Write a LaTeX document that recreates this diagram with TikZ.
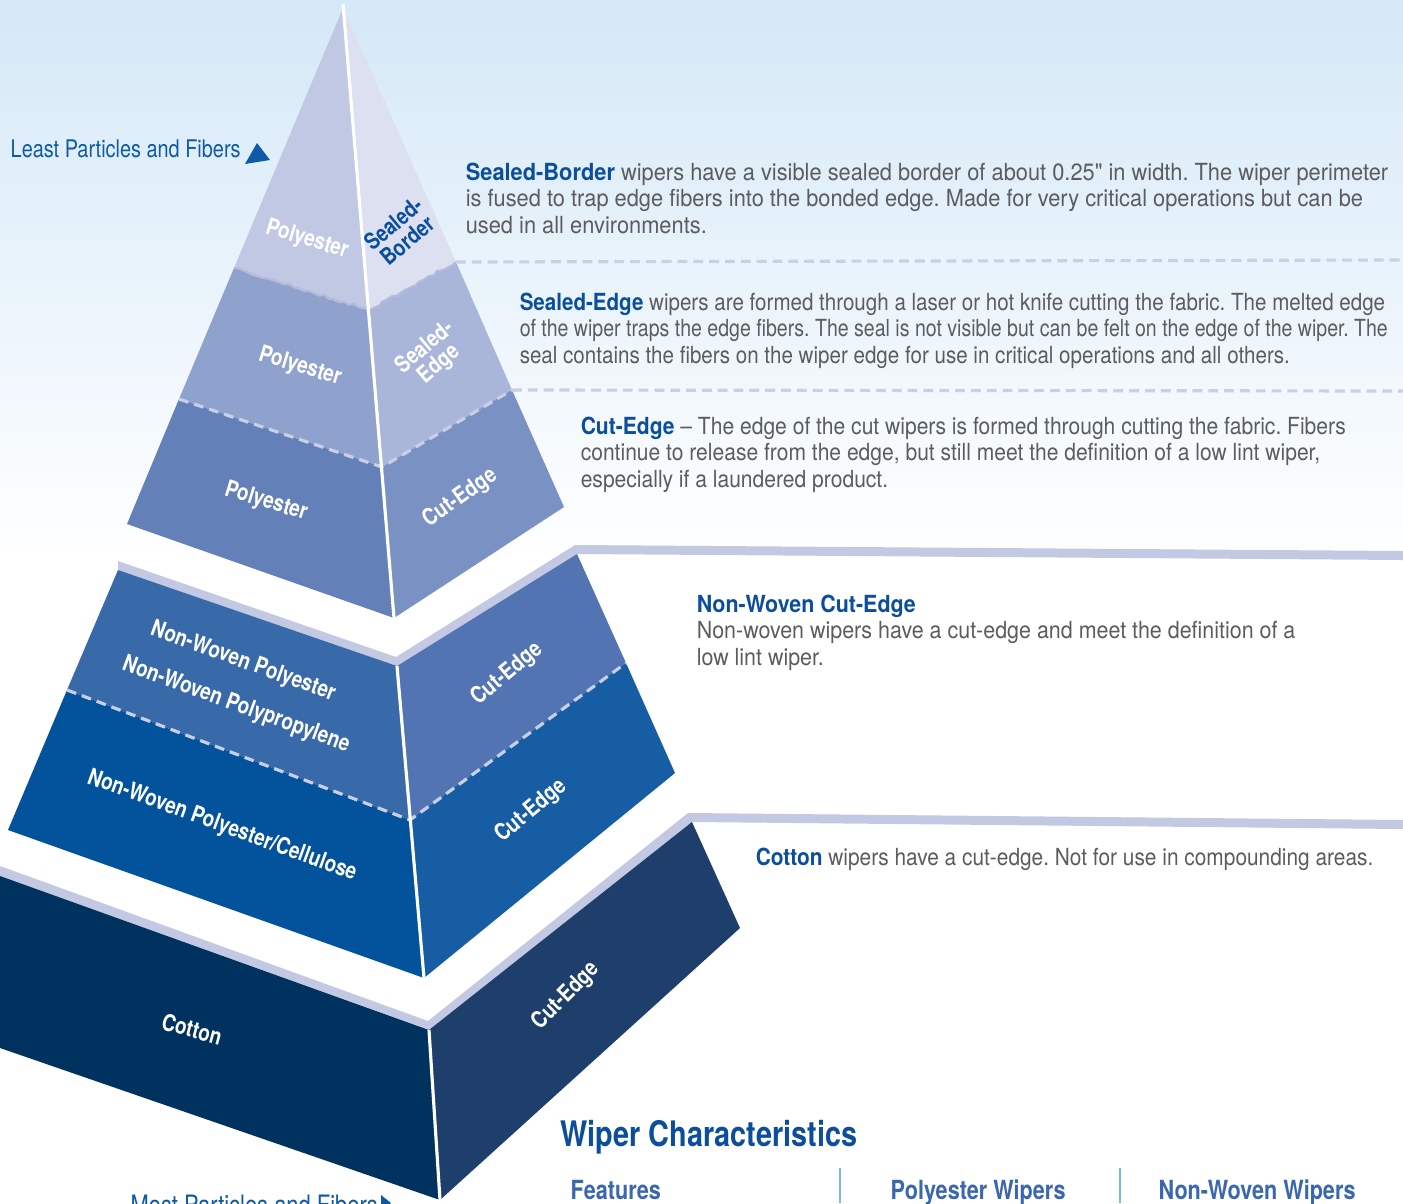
\documentclass[tikz,border=0pt]{standalone}
\usepackage{fontspec}
\setmainfont{TeX Gyre Heros}[FakeStretch=0.82]
\newfontfamily\plainquote{TeX Gyre Heros}[FakeStretch=0.82]
\usepackage{xcolor}
\usetikzlibrary{decorations.pathmorphing}

\definecolor{skyblue}{HTML}{D4E8F7}
\definecolor{stripe}{HTML}{C3C9E3}
\definecolor{topL}{HTML}{C0C8E3}
\definecolor{topR}{HTML}{DCE0F0}
\definecolor{midL}{HTML}{8FA1CD}
\definecolor{midR}{HTML}{A9B5D9}
\definecolor{lowL}{HTML}{6480B9}
\definecolor{lowR}{HTML}{7A91C3}
\definecolor{nwTopL}{HTML}{3869A9}
\definecolor{nwTopR}{HTML}{5274B2}
\definecolor{nwLowL}{HTML}{02529C}
\definecolor{nwLowR}{HTML}{165DA3}
\definecolor{cotL}{HTML}{00325F}
\definecolor{cotR}{HTML}{1E3E6C}
\definecolor{headblue}{HTML}{0B4F9C}
\definecolor{lblue}{HTML}{0E5AA7}
\definecolor{bodygray}{HTML}{5B5C5E}
\definecolor{tabblue}{HTML}{3A67AD}
\definecolor{tabrule}{HTML}{7DB5E3}
\definecolor{dashcol}{HTML}{C8CFE6}
\definecolor{seamcol}{HTML}{B3BCDC}

\newcommand{\wiperhead}[1]{\textcolor{headblue}{\bfseries #1}}
\frenchspacing

\begin{document}
\begin{tikzpicture}[x=0.01cm,y=-0.01cm,
  tier/.style={text=white,font=\bfseries\fontsize{6.6}{6.2}\selectfont,align=center,inner sep=0},
  desc/.style={anchor=north west,inner sep=0,align=left,text=bodygray,font=\fontsize{6.7}{7.6}\selectfont},
  sepline/.style={dashcol,line width=0.9pt,dash pattern=on 2.8pt off 1.7pt},
  ridge/.style={white,line width=0.9pt}]
\useasboundingbox (0,0) rectangle (1403,1203);
\clip (0,0) rectangle (1403,1203);

% background
\fill[white] (0,0) rectangle (1403,1203);
\shade[top color=skyblue,bottom color=white] (0,0) rectangle (1403,560);

% polyester tiers
\coordinate (apex) at (343,8);
\coordinate (sbL) at (234,268);
\coordinate (sbM) at (369,310);
\coordinate (sbR) at (456,262);
\coordinate (seL) at (179,399);
\coordinate (seM) at (382,467);
\coordinate (seR) at (512,390);
\coordinate (ceL) at (127,524);
\coordinate (ceM) at (394,618);
\coordinate (ceR) at (564,507);
\fill[topL] (apex) -- (sbL) -- (sbM) -- cycle;
\fill[topR] (apex) -- (sbM) -- (sbR) -- cycle;
\fill[midL] (sbL) -- (seL) -- (seM) -- (sbM) -- cycle;
\fill[midR] (sbM) -- (seM) -- (seR) -- (sbR) -- cycle;
\fill[lowL] (seL) -- (ceL) -- (ceM) -- (seM) -- cycle;
\fill[lowR] (seM) -- (ceM) -- (ceR) -- (seR) -- cycle;
\draw[seamcol,line width=0.6pt,decorate,decoration={random steps,segment length=1.5pt,amplitude=0.4pt}]
  (sbL) -- (sbM) -- (sbR);
\draw[sepline] (seL) -- (seM) -- (seR);
\draw[ridge] (343,4) -- (ceM);

% non-woven tiers
\fill[stripe] (118,561) -- (396,657) -- (575,545) -- (1403,551) -- (1403,560) -- (577,554) -- (397,666) -- (118,570) -- cycle;
\coordinate (nwA) at (118,570);
\coordinate (nwTop) at (397,666);
\coordinate (nwB) at (577,554);
\coordinate (nwL) at (67,690);
\coordinate (nwM) at (410,820);
\coordinate (nwR) at (626,663);
\coordinate (nwC) at (8,830);
\coordinate (nwBot) at (424,978);
\coordinate (nwD) at (675,773);
\fill[nwTopL] (nwA) -- (nwL) -- (nwM) -- (nwTop) -- cycle;
\fill[nwLowL] (nwL) -- (nwC) -- (nwBot) -- (nwM) -- cycle;
\fill[nwTopR] (nwTop) -- (nwM) -- (nwR) -- (nwB) -- cycle;
\fill[nwLowR] (nwM) -- (nwBot) -- (nwD) -- (nwR) -- cycle;
\draw[sepline] (nwL) -- (nwM) -- (nwR);
\draw[ridge] (nwTop) -- (nwBot);

% cotton tier
\fill[stripe] (0,866) -- (428,1021) -- (688,813) -- (1403,820) -- (1403,829) -- (692,822) -- (430,1030) -- (0,876) -- cycle;
\coordinate (ctA) at (0,876);
\coordinate (ctTop) at (429,1030);
\coordinate (ctB) at (692,822);
\coordinate (ctC) at (0,1048);
\coordinate (ctBot) at (440,1200);
\coordinate (ctD) at (740,928);
\fill[cotL] (ctA) -- (ctTop) -- (ctBot) -- (ctC) -- cycle;
\fill[cotR] (ctTop) -- (ctB) -- (ctD) -- (ctBot) -- cycle;
\draw[ridge] (ctTop) -- (ctBot);

% separators to the right
\coordinate (sbEnd) at (1403,260);
\coordinate (seEnd) at (1403,391);
\draw[sepline] (sbR) -- (sbEnd);
\draw[sepline] (seR) -- (seEnd);

% tier labels
\node[tier,rotate=-17] (polyA) at (307,240) {Polyester};
\node[tier,text=headblue,rotate=40] (sborder) at (400,232) {Sealed-\\Border};
\node[tier,rotate=-17] (polyB) at (300,367) {Polyester};
\node[tier,rotate=40] (sedge) at (432,356) {Sealed-\\Edge};
\node[tier,rotate=-17] (polyC) at (266,502) {Polyester};
\node[tier,rotate=35] (cutA) at (460,498) {Cut-Edge};
\node[tier,rotate=-20] (nwpoly) at (243,662) {Non-Woven Polyester};
\node[tier,rotate=-20] (nwpp) at (236,705) {Non-Woven Polypropylene};
\node[tier,rotate=-20] (nwcell) at (222,826) {Non-Woven Polyester/Cellulose};
\node[tier,rotate=40] (cutB) at (507,674) {Cut-Edge};
\node[tier,rotate=40] (cutC) at (531,811) {Cut-Edge};
\node[tier,rotate=-15] (cotton) at (192,1029) {Cotton};
\node[tier,rotate=45] (cutD) at (566,996) {Cut-Edge};

% ends of the scale
\node[anchor=base west,inner sep=0,text=lblue,font=\fontsize{6.9}{8}\selectfont] (least) at (10,157) {Least Particles and Fibers};
\fill[lblue] (245,164) -- (257,143) -- (270,160) -- cycle;
\node[anchor=north west,inner sep=0,text=lblue,font=\fontsize{7.6}{9}\selectfont] (most) at (130,1194) {Most Particles and Fibers};
\fill[lblue] (381,1195) -- (391,1203) -- (381,1211) -- cycle;

% descriptions
\node[desc,xscale=1.13] (sbtext) at (465,162) {\wiperhead{Sealed-Border} wipers have a visible sealed border of about 0.25{\plainquote"} in width. The wiper perimeter\\
is fused to trap edge fibers into the bonded edge. Made for very critical operations but can be\\
used in all environments.};
\node[desc,xscale=1.065] (setext) at (519,292) {\wiperhead{Sealed-Edge} wipers are formed through a laser or hot knife cutting the fabric. The melted edge\\
\scalebox{0.95}[1]{of the wiper traps the edge fibers. The seal is not visible but can be felt on the edge of the wiper. The}\\
seal contains the fibers on the wiper edge for use in critical operations and all others.};
\node[desc,xscale=1.09] (cetext) at (580,416) {\wiperhead{Cut-Edge} -- The edge of the cut wipers is formed through cutting the fabric. Fibers\\
continue to release from the edge, but still meet the definition of a low lint wiper,\\
especially if a laundered product.};
\node[desc,xscale=1.11] (nwtext) at (696,594) {\wiperhead{Non-Woven Cut-Edge}\\
Non-woven wipers have a cut-edge and meet the definition of a\\
low lint wiper.};
\node[desc,xscale=1.08] (cttext) at (755,847) {\wiperhead{Cotton} wipers have a cut-edge. Not for use in compounding areas.};

% table head
\node[anchor=base west,inner sep=0,text=headblue,font=\bfseries\fontsize{10}{12}\selectfont] (wiperchar) at (560,1146) {Wiper Characteristics};
\node[anchor=base west,inner sep=0,text=tabblue,font=\bfseries\fontsize{7.5}{9}\selectfont] (feat) at (570,1199) {Features};
\node[anchor=base west,inner sep=0,text=tabblue,font=\bfseries\fontsize{7.5}{9}\selectfont] (polyw) at (890,1199) {Polyester Wipers};
\node[anchor=base west,inner sep=0,text=tabblue,font=\bfseries\fontsize{7.5}{9}\selectfont] (nww) at (1158,1199) {Non-Woven Wipers};
\draw[tabrule,line width=0.4pt] (840,1168) -- (840,1203);
\draw[tabrule,line width=0.4pt] (1120,1168) -- (1120,1203);
\end{tikzpicture}
\end{document}
